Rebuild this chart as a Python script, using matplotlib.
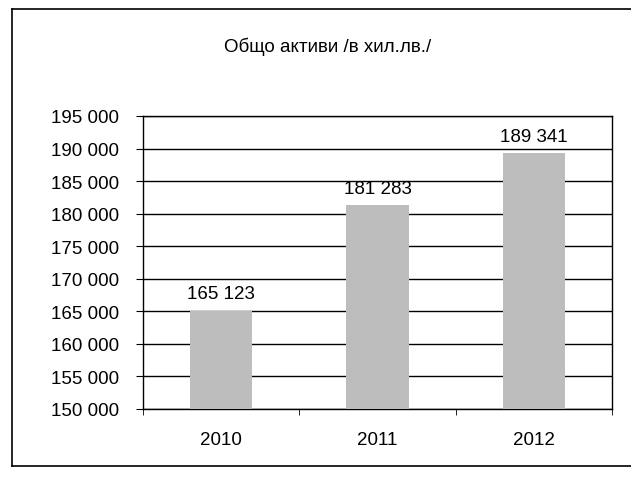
import matplotlib
matplotlib.use("Agg")
import matplotlib.pyplot as plt
from matplotlib.ticker import FuncFormatter, MultipleLocator
from matplotlib.lines import Line2D

plt.rcParams['font.family'] = ['Liberation Sans', 'DejaVu Sans']

title = "Общо активи /в хил.лв./"
years = ["2010", "2011", "2012"]
assets = [165123, 181283, 189341]
y_min, y_max, y_step = 150000, 195000, 5000

fig = plt.figure(figsize=(6.31, 4.89), dpi=100)
W, H = 631, 489

# outer chart frame
for xs, ys in [((12, 12), (10, 467)), ((12, 631), (10, 10)), ((12, 631), (467, 467))]:
    fig.add_artist(Line2D([x / W for x in xs], [1 - y / H for y in ys],
                          color='black', lw=1.2, transform=fig.transFigure))

ax = fig.add_axes([143 / W, 1 - 410 / H, (612 - 143) / W, (410 - 117) / H])
x = range(len(years))
ax.bar(x, [v - y_min for v in assets], bottom=y_min, width=0.4,
       color='#bdbdbd', edgecolor='none', zorder=3)

ax.set_ylim(y_min, y_max)
ax.set_xlim(-0.5, len(years) - 0.5)
ax.yaxis.set_major_locator(MultipleLocator(y_step))
ax.yaxis.set_major_formatter(FuncFormatter(lambda v, p: f"{int(v):,}".replace(",", " ")))
ax.grid(axis='y', color='black', lw=1.0, zorder=1)
ax.set_xticks(list(x))
ax.set_xticklabels(years)
ax.set_xticks([i + 0.5 for i in range(-1, len(years))], minor=True)
ax.tick_params(axis='x', which='major', length=0, pad=16, labelsize=13.5)
ax.tick_params(axis='x', which='minor', length=4, direction='out')
ax.tick_params(axis='y', length=5, direction='out', pad=12, labelsize=13.5)
for s in ax.spines.values():
    s.set_linewidth(1.0)
    s.set_color('black')

for xi, v in zip(x, assets):
    ax.annotate(f"{v:,}".replace(",", " "), (xi, v), xytext=(0, 6),
                textcoords='offset points', ha='center', va='bottom', fontsize=13.5)

fig.text(328 / W, 1 - 47 / H, title, ha='center', va='center', fontsize=13.5)

fig.savefig("out.png", dpi=100)
